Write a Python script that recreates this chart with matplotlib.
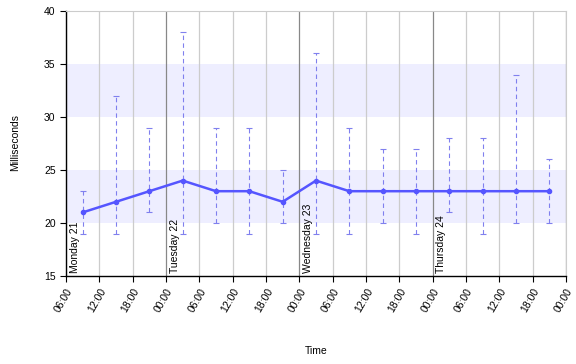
from datetime import datetime, timedelta

import matplotlib
matplotlib.use('Agg')
import matplotlib.pyplot as plt
import matplotlib.dates as mdates

plt.rcParams['font.family'] = ['Liberation Sans', 'DejaVu Sans']

start = datetime(2019, 1, 21, 9, 0)
times = [start + timedelta(hours=6 * i) for i in range(15)]
values = [21, 22, 23, 24, 23, 23, 22, 24, 23, 23, 23, 23, 23, 23, 23]
low = [19, 19, 21, 19, 20, 19, 20, 19, 19, 20, 19, 21, 19, 20, 20]
high = [23, 32, 29, 38, 29, 29, 25, 36, 29, 27, 27, 28, 28, 34, 26]
bands = [(20, 25), (30, 35)]
day_labels = ['Monday 21', 'Tuesday 22', 'Wednesday 23', 'Thursday 24']
day_starts = [datetime(2019, 1, 21, 6, 0), datetime(2019, 1, 22), datetime(2019, 1, 23), datetime(2019, 1, 24)]

x_min = datetime(2019, 1, 21, 6, 0)
x_max = datetime(2019, 1, 25, 0, 0)


def main():
    fig = plt.figure(figsize=(5.76, 3.64), dpi=100)
    ax = fig.add_axes([66 / 576, 1 - 276 / 364, 500 / 576, 265 / 364])

    for lo, hi in bands:
        ax.axhspan(lo, hi, color='#eeeeff', zorder=0, lw=0)

    # vertical grid, darker at midnight
    t = x_min
    while t <= x_max:
        if t.hour == 0:
            ax.axvline(t, color='#888888', lw=0.9, zorder=1)
        else:
            ax.axvline(t, color='#cccccc', lw=0.9, zorder=1)
        t += timedelta(hours=6)

    err_lo = [v - l for v, l in zip(values, low)]
    err_hi = [h - v for v, h in zip(values, high)]
    eb = ax.errorbar(times, values, yerr=[err_lo, err_hi], fmt='none', ecolor='#8080ee',
                     elinewidth=0.8, capsize=2, capthick=0.8, zorder=2)
    for lc in eb[2]:
        lc.set_linestyle((0, (4, 3)))
    ax.plot(times, values, color='#5555ff', lw=1.8, marker='o', markersize=3, zorder=3)

    for label, d in zip(day_labels, day_starts):
        ax.text(d + timedelta(minutes=40), 15.3, label, rotation=90, ha='left', va='bottom',
                fontsize=7.5, color='black', zorder=4)

    ax.set_xlim(x_min, x_max)
    ax.set_ylim(15, 40)
    ax.set_yticks([15, 20, 25, 30, 35, 40])
    ax.xaxis.set_major_locator(mdates.HourLocator(byhour=[0, 6, 12, 18]))
    ax.xaxis.set_major_formatter(mdates.DateFormatter('%H:%M'))
    plt.setp(ax.get_xticklabels(), rotation=60, ha='right', rotation_mode='anchor')
    ax.tick_params(labelsize=7.5, length=4, width=0.8, color='black')

    ax.spines['top'].set_color('#cccccc')
    ax.spines['right'].set_color('#cccccc')
    ax.spines['left'].set_linewidth(1)
    ax.spines['bottom'].set_linewidth(1)

    fig.text(15 / 576, 1 - 143 / 364, 'Milliseconds', rotation=90, ha='center', va='center', fontsize=7.5)
    fig.text(316 / 576, 1 - 351 / 364, 'Time', ha='center', va='center', fontsize=7.5)

    fig.savefig('out.png', dpi=100)


if __name__ == '__main__':
    main()
